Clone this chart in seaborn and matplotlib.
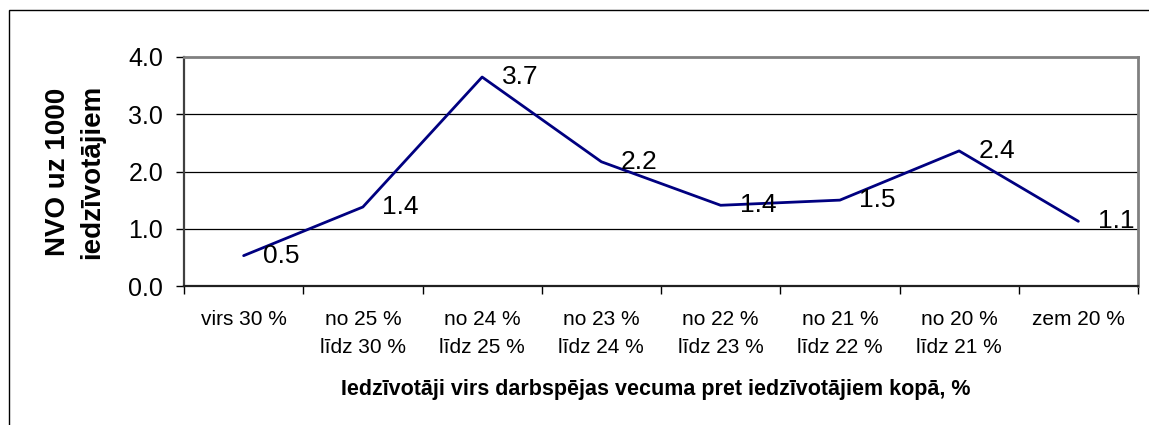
import numpy as np
import pandas as pd
import matplotlib
matplotlib.use("Agg")
import matplotlib.pyplot as plt
import seaborn as sns
from matplotlib.patches import Rectangle
from matplotlib.ticker import FixedLocator, NullFormatter

categories = ["virs 30 %", "no 25 %\nlīdz 30 %", "no 24 %\nlīdz 25 %", "no 23 %\nlīdz 24 %",
              "no 22 %\nlīdz 23 %", "no 21 %\nlīdz 22 %", "no 20 %\nlīdz 21 %", "zem 20 %"]
values = [0.53, 1.38, 3.65, 2.17, 1.41, 1.50, 2.36, 1.13]
value_labels = ["0.5", "1.4", "3.7", "2.2", "1.4", "1.5", "2.4", "1.1"]
y_ticks = [0.0, 1.0, 2.0, 3.0, 4.0]
y_title = "NVO uz 1000\niedzīvotājiem"
x_title = "Iedzīvotāji virs darbspējas vecuma pret iedzīvotājiem kopā, %"

sns.set_style("white")
plt.rcParams["font.family"] = ["Liberation Sans", "DejaVu Sans"]
plt.rcParams["text.color"] = "black"
plt.rcParams["xtick.color"] = "black"
plt.rcParams["ytick.color"] = "black"
plt.rcParams["axes.labelcolor"] = "black"

W, H = 1149, 425
fig = plt.figure(figsize=(W / 100, H / 100), dpi=100)
fig.patch.set_facecolor("white")

# outer chart border (only left and top visible)
fig.add_artist(Rectangle((9 / W, -0.1), 1.2, 1 - 10 / H + 0.1, transform=fig.transFigure,
                         fill=False, ec="black", lw=1.0))

ax = fig.add_axes([184 / W, 1 - 286 / H, (1138 - 184) / W, (286 - 57) / H])
df = pd.DataFrame({"pos": np.arange(len(values)), "val": values})
sns.lineplot(data=df, x="pos", y="val", color="#000080", lw=2.0, ax=ax, zorder=3)

ax.set_xlim(-0.5, len(values) - 0.5)
ax.set_ylim(0, 4)

# y axis
ax.set_yticks(y_ticks)
ax.set_yticklabels([f"{t:.1f}" for t in y_ticks], fontsize=18, color="black")
ax.tick_params(axis="y", which="major", direction="out", length=6, width=1, color="black", pad=9, left=True)
for t in y_ticks[1:-1]:
    ax.axhline(t, color="black", lw=0.9, zorder=1)

# x axis: boundary ticks, labels centered
ax.xaxis.set_major_locator(FixedLocator(np.arange(-0.5, len(values), 1.0)))
ax.xaxis.set_major_formatter(NullFormatter())
ax.xaxis.set_minor_locator(FixedLocator(np.arange(len(values))))
ax.set_xticklabels(categories, minor=True, fontsize=15, linespacing=1.65, color="black")
ax.tick_params(axis="x", which="major", direction="out", length=6, width=1, color="black", bottom=True)
ax.tick_params(axis="x", which="minor", length=0, pad=17)

ax.set_xlabel("")
ax.set_ylabel("")

for side, col, lw in [("left", "#404040", 1.6), ("bottom", "#202020", 1.6), ("top", "#808080", 2.0), ("right", "#808080", 2.0)]:
    ax.spines[side].set_visible(True)
    ax.spines[side].set_color(col)
    ax.spines[side].set_linewidth(lw)

# data labels
for i, (v, lab) in enumerate(zip(values, value_labels)):
    ax.annotate(lab, (i, v), xytext=(14, 0), textcoords="offset points",
                ha="left", va="center", fontsize=19, color="black", zorder=4, annotation_clip=False)

fig.text(75 / W, 1 - 171.5 / H, y_title, rotation=90, ha="center", va="center", color="black",
         fontsize=20, fontweight="bold", linespacing=1.4, multialignment="center")
fig.text(656 / W, 1 - 389 / H, x_title, ha="center", va="center", fontsize=15.5, fontweight="bold", color="black")

fig.savefig("out.png", dpi=100)
